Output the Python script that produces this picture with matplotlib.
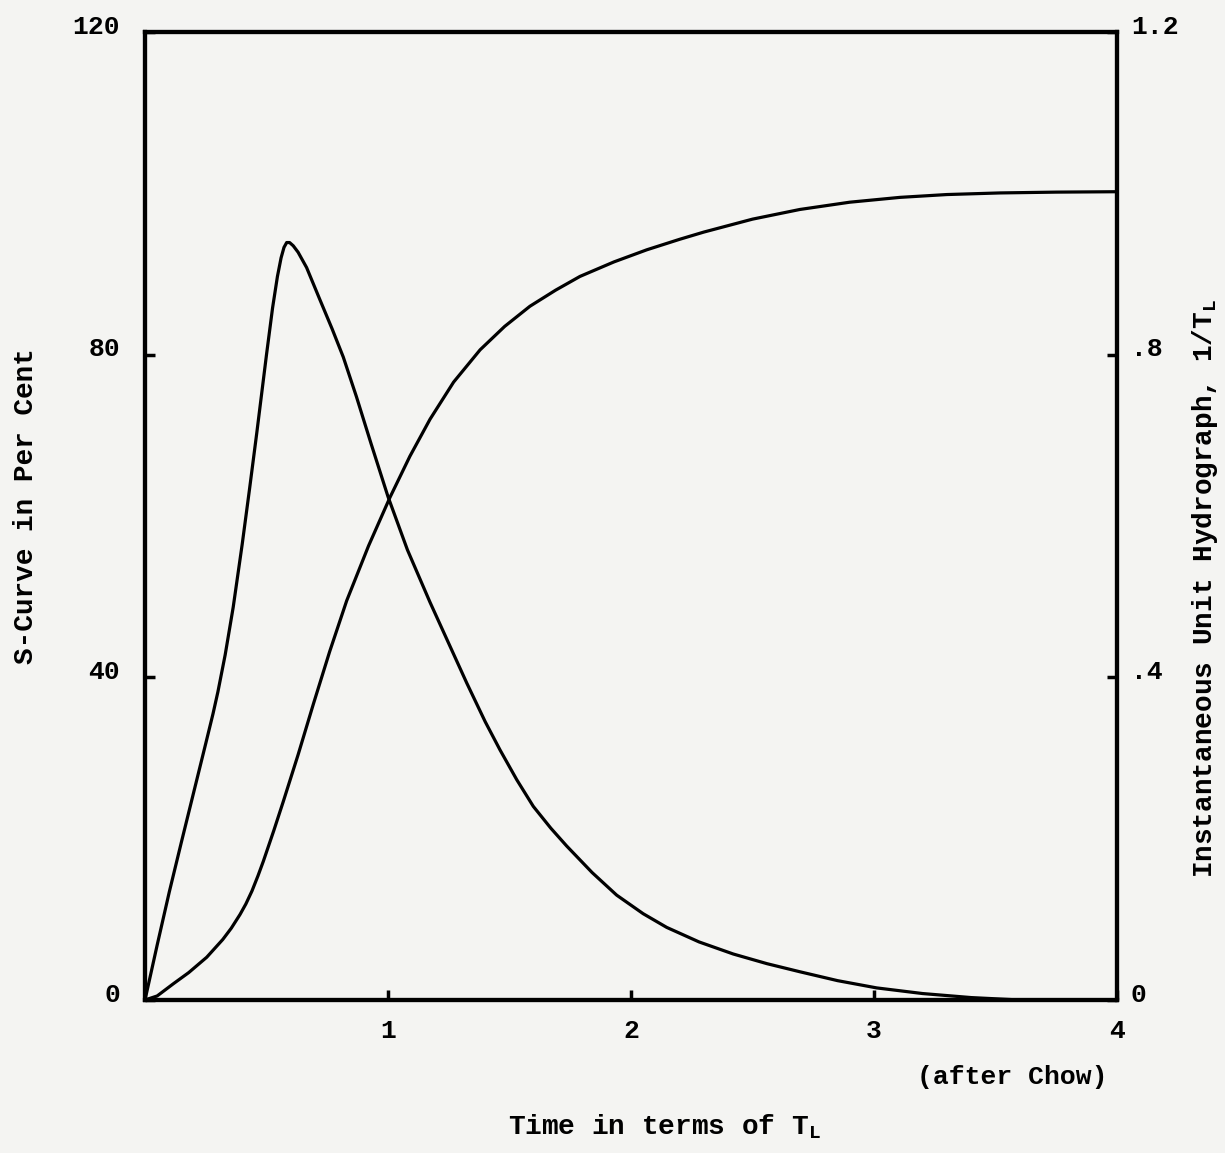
import matplotlib
matplotlib.use("Agg")
import matplotlib.pyplot as plt
from matplotlib.transforms import ScaledTranslation

# ---- data ----
# Instantaneous unit hydrograph (right axis, 1/T_L)
iuh_t = [0.0, 0.05, 0.10, 0.15, 0.20, 0.25, 0.28, 0.30, 0.33, 0.363, 0.40, 0.43, 0.46,
         0.50, 0.525, 0.545, 0.56, 0.572, 0.583, 0.595, 0.61, 0.63, 0.665, 0.72, 0.77,
         0.816, 0.87, 0.93, 1.00, 1.08, 1.173, 1.25, 1.324, 1.40, 1.461, 1.53, 1.598,
         1.67, 1.735, 1.84, 1.941, 2.05, 2.147, 2.28, 2.421, 2.56, 2.695, 2.85, 3.011,
         3.2, 3.4, 3.6, 4.0]
iuh_v = [0.0, 0.068, 0.134, 0.196, 0.257, 0.318, 0.355, 0.382, 0.428, 0.487, 0.565,
         0.633, 0.703, 0.800, 0.858, 0.897, 0.920, 0.933, 0.939, 0.939, 0.935, 0.927,
         0.908, 0.868, 0.832, 0.797, 0.748, 0.690, 0.624, 0.558, 0.493, 0.442, 0.393,
         0.345, 0.310, 0.273, 0.240, 0.213, 0.191, 0.158, 0.130, 0.107, 0.090, 0.072,
         0.057, 0.045, 0.035, 0.024, 0.015, 0.008, 0.003, 0.0, 0.0]

# S-curve (left axis, per cent)
s_t = [0.0, 0.05, 0.116, 0.18, 0.254, 0.32, 0.355, 0.391, 0.415, 0.44, 0.465, 0.487,
       0.53, 0.569, 0.63, 0.693, 0.76, 0.83, 0.92, 1.008, 1.09, 1.173, 1.27, 1.379,
       1.48, 1.584, 1.69, 1.79, 1.93, 2.065, 2.2, 2.3, 2.5, 2.695, 2.9, 3.107, 3.3,
       3.519, 3.75, 4.0]
s_v = [0.0, 0.5, 2.0, 3.4, 5.3, 7.5, 8.9, 10.6, 11.9, 13.5, 15.4, 17.2,
       21.0, 24.6, 30.4, 36.7, 43.2, 49.5, 56.3, 62.3, 67.4, 72.0, 76.6, 80.6,
       83.5, 86.0, 88.0, 89.7, 91.5, 93.0, 94.3, 95.2, 96.8, 98.0, 98.9, 99.5, 99.85,
       100.05, 100.15, 100.2]

x_ticks = [1, 2, 3, 4]
x_ticklabels = ["1", "2", "3", "4"]
left_ticks = [0, 40, 80, 120]
left_ticklabels = ["0", "40", "80", "120"]
right_ticks = [0, 0.4, 0.8, 1.2]
right_ticklabels = ["0", ".4", ".8", "1.2"]

FONT = "Liberation Mono"
bg = "#f4f4f2"
W, H = 1225, 1153

fig = plt.figure(figsize=(12.25, 11.53), dpi=100, facecolor=bg)
ax = fig.add_axes([145 / W, 1 - 1000 / H, (1117 - 145) / W, (1000 - 32) / H])
ax.set_facecolor(bg)
ax2 = ax.twinx()

ax.plot(s_t, s_v, color="black", lw=2.3, solid_joinstyle="round", solid_capstyle="round")
ax2.plot(iuh_t, iuh_v, color="black", lw=2.3, solid_joinstyle="round", solid_capstyle="round")

ax.set_xlim(0, 4)
ax.set_ylim(0, 120)
ax2.set_ylim(0, 1.2)

for a in (ax, ax2):
    for s in a.spines.values():
        s.set_linewidth(3.0)
        s.set_color("black")

ax.set_xticks(x_ticks)
ax.set_xticklabels(x_ticklabels, fontfamily=FONT, fontweight="bold", fontsize=19)
ax.set_yticks(left_ticks)
ax.set_yticklabels(left_ticklabels, fontfamily=FONT, fontweight="bold", fontsize=19)
ax2.set_yticks(right_ticks)
ax2.set_yticklabels(right_ticklabels, fontfamily=FONT, fontweight="bold", fontsize=19)

ax.tick_params(axis="x", direction="in", length=7, width=2.5, pad=14, top=False)
ax.tick_params(axis="y", direction="in", length=7, width=2.5, pad=18)
ax2.tick_params(axis="y", direction="in", length=7, width=2.5, pad=10)

up = ScaledTranslation(0, 8 / 100, fig.dpi_scale_trans)
for lab in ax.get_yticklabels() + ax2.get_yticklabels():
    lab.set_transform(lab.get_transform() + up)

fig.text(26 / W, 1 - 506 / H, "S-Curve in Per Cent", fontfamily=FONT, fontweight="bold",
         fontsize=20, rotation=90, ha="center", va="center")
fig.text(1205 / W, 1 - 588 / H, "Instantaneous Unit Hydrograph, 1/$\\mathregular{T_L}$",
         fontfamily=FONT, fontweight="bold", fontsize=20, rotation=90, ha="center", va="center")
fig.text(508 / W, 1 - 1127 / H, "Time in terms of $\\mathregular{T_L}$", fontfamily=FONT,
         fontweight="bold", fontsize=20, ha="left", va="center")
fig.text(1012 / W, 1 - 1077 / H, "(after Chow)", fontfamily=FONT, fontweight="bold",
         fontsize=19, ha="center", va="center")

fig.savefig("out.png", dpi=100, facecolor=bg)
